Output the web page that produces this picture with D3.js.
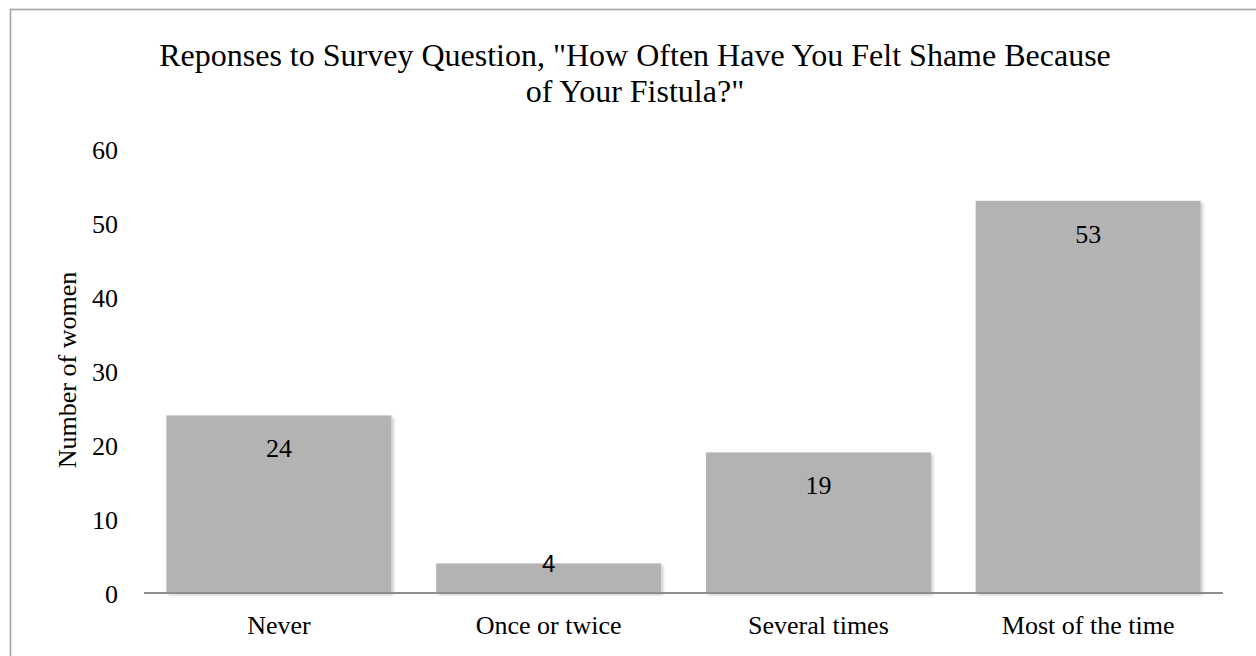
<!DOCTYPE html>
<html>
<head>
<meta charset="utf-8">
<script src="https://cdn.jsdelivr.net/npm/d3@7"></script>
<style>
  html, body { margin: 0; padding: 0; background: #fff; }
  svg { display: block; }
</style>
</head>
<body>
<svg id="chart" width="1256" height="656"></svg>
<script>
// Survey responses: how often respondents felt shame because of their fistula
const categories = ["Never", "Once or twice", "Several times", "Most of the time"];
const counts = [24, 4, 19, 53];
const yTicks = [0, 10, 20, 30, 40, 50, 60];
const titleLines = ["Reponses to Survey Question, \"How Often Have You Felt Shame Because", "of Your Fistula?\""];
const yLabel = "Number of women";

const W = 1256, H = 656;
const plot = { left: 144, right: 1223, top: 149, bottom: 593 };
const serif = "Liberation Serif, Times New Roman, serif";

const svg = d3.select("#chart");

// soft shadow under the bars
const defs = svg.append("defs");
const f = defs.append("filter").attr("id", "barShadow")
  .attr("x", "-5%").attr("y", "-5%").attr("width", "115%").attr("height", "115%");
f.append("feDropShadow").attr("dx", 2).attr("dy", 2).attr("stdDeviation", 1.8)
  .attr("flood-color", "#000").attr("flood-opacity", 0.22);

// chart area frame
svg.append("rect")
  .attr("x", 10.5).attr("y", 9.5)
  .attr("width", W + 20).attr("height", H + 20)
  .attr("fill", "none").attr("stroke", "#a3a3a3").attr("stroke-width", 1.6);

const x = d3.scaleBand()
  .domain(categories)
  .range([plot.left, plot.right])
  .paddingInner(0.166)
  .paddingOuter(0.083);

const y = d3.scaleLinear().domain([0, 60]).range([plot.bottom, plot.top]);

// title
svg.append("text")
  .attr("x", 635).attr("y", 66)
  .attr("text-anchor", "middle")
  .style("font-family", serif).attr("font-size", 32).attr("fill", "#000")
  .selectAll("tspan").data(titleLines).join("tspan")
  .attr("x", 635).attr("dy", (d, i) => i === 0 ? 0 : 36)
  .text(d => d);

// bars
const data = categories.map((c, i) => ({ cat: c, v: counts[i] }));
svg.append("g").selectAll("rect").data(data).join("rect")
  .attr("x", d => x(d.cat))
  .attr("y", d => y(d.v))
  .attr("width", x.bandwidth())
  .attr("height", d => y(0) - y(d.v))
  .attr("fill", "#b3b3b3")
  .attr("filter", "url(#barShadow)");

// y axis ticks (no axis line)
const yAxis = d3.axisLeft(y).tickValues(yTicks).tickSize(0).tickPadding(0).tickFormat(d3.format("d"));
const gy = svg.append("g").attr("transform", "translate(118,0)").call(yAxis);
gy.select(".domain").remove();
gy.selectAll("text")
  .style("font-family", serif).attr("font-size", 26).attr("fill", "#000")
  .attr("dy", "0.36em");

// baseline / x axis
const xAxis = d3.axisBottom(x).tickSize(0).tickPadding(0);
const gx = svg.append("g").attr("transform", `translate(0,${plot.bottom})`).call(xAxis);
gx.select(".domain").attr("stroke", "#8e8e8e").attr("stroke-width", 2)
  .attr("d", `M${plot.left},0H${plot.right}`);
gx.selectAll("text")
  .style("font-family", serif).attr("font-size", 26).attr("fill", "#000")
  .attr("y", 41).attr("dy", 0);

// value labels, inside the bar end; short bars get the label pinned near the base
svg.append("g").selectAll("text").data(data).join("text")
  .attr("x", d => x(d.cat) + x.bandwidth() / 2)
  .attr("y", d => Math.min(y(d.v) + 42, y(0) - 21))
  .attr("text-anchor", "middle")
  .style("font-family", d => (y(0) - y(d.v)) < 50 ? "Liberation Sans, Arial, sans-serif" : serif)
  .attr("font-size", d => (y(0) - y(d.v)) < 50 ? 24 : 26)
  .attr("fill", "#000")
  .text(d => d.v);

// y axis title
svg.append("text")
  .attr("transform", `translate(76,${370}) rotate(-90)`)
  .attr("text-anchor", "middle")
  .style("font-family", serif).attr("font-size", 26).attr("fill", "#000")
  .text(yLabel);
</script>
</body>
</html>
